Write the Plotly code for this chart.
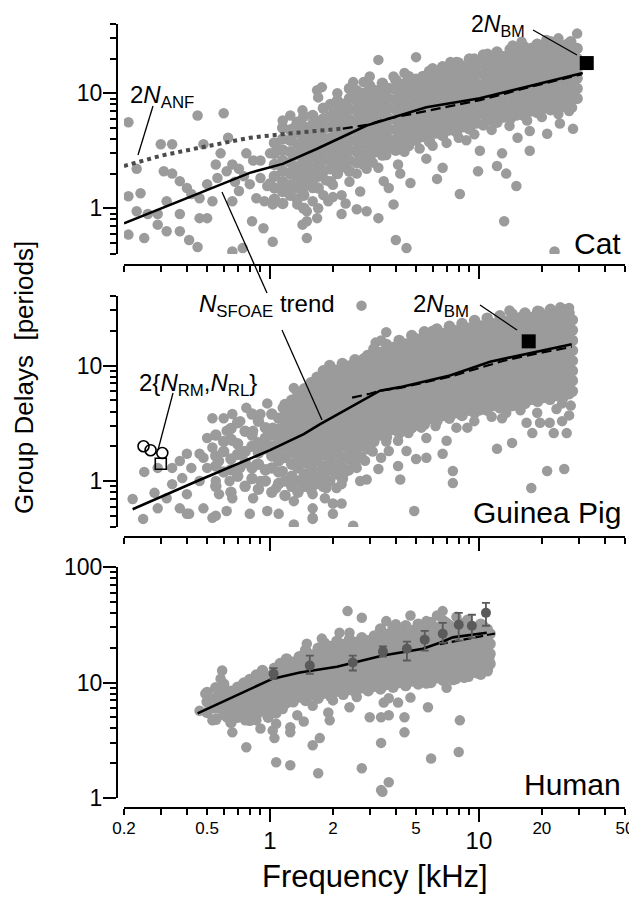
import math
import plotly.graph_objects as go

W, H = 637, 897          # browser window
OFF = 8                  # page body margin
FW, FH = W - OFF, H - OFF
FONT = 'Liberation Sans, Arial, Helvetica, sans-serif'
GRAY = '#9b9b9b'
DARK = '#5a5a5a'

# ---------------- tick values ----------------
freq_major = [1, 10]
freq_minor = [0.2, 0.3, 0.4, 0.5, 0.6, 0.7, 0.8, 0.9, 2, 3, 4, 5, 6, 7, 8, 9, 20, 30, 40, 50]
freq_label_vals = [0.2, 0.5, 2, 5, 20, 50]
freq_label_text = ['0.2', '0.5', '2', '5', '20', '50']
delay_major_cg = [1, 10]
delay_minor_cg = [0.4, 0.5, 0.6, 0.7, 0.8, 0.9, 2, 3, 4, 5, 6, 7, 8, 9, 20, 30, 40]
delay_major_h = [1, 10, 100]
delay_minor_h = [2, 3, 4, 5, 6, 7, 8, 9, 20, 30, 40, 50, 60, 70, 80, 90]

# ---------------- CAT ----------------
cat_pts = [
    (0.21, 5.6), (0.23, 2.2), (0.30, 3.6), (0.34, 3.6), (0.45, 6.4), (0.60, 6.7), (0.48, 3.6), (0.58, 3.0), (0.63, 4.1),
    (0.21, 1.27), (0.24, 1.35), (0.23, 0.94), (0.26, 0.89), (0.29, 0.89), (0.32, 1.15), (0.37, 0.89),
    (0.21, 0.59), (0.25, 0.55), (0.29, 0.72), (0.32, 0.63), (0.37, 0.63), (0.41, 0.53), (0.45, 0.46), (0.46, 0.82),
    (0.50, 0.82), (0.53, 1.15), (0.66, 1.15), (0.71, 1.41), (0.80, 1.62), (0.90, 1.83), (0.97, 1.56), (0.86, 1.22),
    (0.94, 1.15), (1.03, 1.08), (1.00, 1.65), (0.82, 0.77), (0.93, 0.67), (1.03, 0.51), (0.66, 0.42), (0.74, 0.45),
    (1.50, 0.55), (0.31, 2.1), (0.34, 2.0), (0.37, 1.72), (0.40, 1.5), (0.42, 1.33), (0.46, 1.22), (0.50, 1.62),
    (0.56, 1.83), (0.62, 2.1), (0.66, 2.4), (0.71, 2.2), (0.77, 3.0), (0.83, 2.6), (0.90, 2.6), (1.00, 3.0),
    (1.08, 3.4), (1.15, 5.8), (1.25, 6.4), (1.30, 5.0), (1.43, 7.1), (1.60, 5.5), (1.68, 10.6), (1.25, 3.9),
    (1.40, 3.4), (1.55, 3.9), (1.30, 2.2), (1.40, 2.0), (1.60, 2.2), (1.30, 1.5), (1.43, 1.41), (1.60, 1.72),
    (1.35, 1.08), (1.50, 0.94), (1.43, 0.72), (1.68, 0.82), (1.60, 1.15), (0.55, 2.4), (0.68, 1.7), (0.75, 1.9),
    (3.3, 19.5), (5.0, 20.6), (7.3, 18.7), (2.5, 12.5), (1.77, 11.3), (1.70, 9.2), (2.0, 7.5), (29.5, 33.0),
    (15.1, 23.8), (17.9, 24.9), (22.5, 22.4), (10.9, 18.3), (12.9, 16.8), (28.2, 12.5), (28.2, 9.2), (27.9, 7.5),
    (24.4, 5.45), (21.2, 4.45), (28.2, 4.9), (17.5, 3.16), (15.3, 4.1), (12.9, 3.0), (13.5, 2.0), (15.1, 1.56),
    (8.1, 1.33), (9.9, 2.1), (10.1, 3.16), (12.2, 2.33), (8.7, 3.9), (6.7, 2.25), (6.3, 1.8), (5.6, 2.7),
    (4.7, 1.66), (4.1, 2.4), (4.2, 2.0), (3.7, 1.5), (3.5, 1.72), (3.3, 2.25), (3.9, 1.08), (4.0, 0.53),
    (4.5, 0.45), (13.2, 0.77), (23.0, 0.42), (2.2, 0.89), (2.6, 0.98), (2.9, 0.94), (3.3, 0.82), (1.7, 1.0),
    (1.9, 1.15), (1.5, 0.77), (1.6, 1.5), (17.9, 9.6), (15.1, 6.4), (19.6, 6.7), (21.2, 9.2), (17.5, 4.7),
    (1.8, 1.3), (2.0, 1.6), (2.2, 1.3), (2.4, 1.7), (2.7, 1.4), (2.3, 1.1), (2.0, 1.25), (1.85, 1.75),
    (2.6, 2.0), (2.9, 2.2), (3.1, 2.5), (3.6, 2.9), (4.4, 3.1), (5.2, 3.3), (6.0, 3.5), (7.0, 3.7),
    (8.0, 4.1), (9.5, 4.4), (11.5, 4.8), (14.0, 5.2), (17.0, 5.8), (20.0, 6.2), (24.0, 6.6), (27.0, 7.0),
    (4.4, 15.0), (6.0, 16.5), (8.0, 18.5), (9.5, 20.0), (11.0, 22.0), (13.0, 21.0), (14.5, 26.0), (16.0, 28.0),
    (19.0, 27.0), (21.0, 29.0), (24.0, 30.0), (26.5, 27.0), (28.5, 25.0), (25.0, 19.0), (27.0, 21.0),
    (2.1, 10.0), (2.8, 12.5), (3.0, 14.0), (3.9, 14.0),
]
cat_band_f = [1.05, 1.15, 1.25, 1.35, 1.45, 1.5, 1.6, 1.7, 1.8, 1.95, 2.1, 2.25, 2.4, 2.6, 2.8, 3.0, 3.2, 3.45,
              3.7, 4.0, 4.3, 4.6, 5.0, 5.4, 5.8, 6.2, 6.7, 7.2, 7.8, 8.4, 9.0, 9.7, 10.5, 11.3, 12.2, 13.1,
              14.1, 15.2, 16.4, 17.7, 19.0, 20.5, 22.0, 23.7, 25.5, 27.5, 29.5]
cat_band_n = [
    [1.2, 1.5, 1.9, 2.4, 3.0, 3.7],
    [1.1, 1.4, 1.7, 2.1, 2.6, 3.2, 4.0, 5.0],
    [1.3, 1.6, 2.0, 2.5, 3.1, 3.9, 4.8],
    [1.2, 1.5, 1.85, 2.3, 2.9, 3.6, 4.5, 5.6],
    [1.0, 1.3, 1.7, 2.1, 2.6, 3.3, 4.1, 5.1, 6.3],
    [1.6, 2.0, 2.5, 3.1, 3.8, 4.7],
    [1.8, 2.2, 2.8, 3.4, 4.2, 5.2, 6.4],
    [1.5, 1.9, 2.4, 3.0, 3.7, 4.5, 5.6],
    [2.1, 2.6, 3.2, 4.0, 4.9, 6.0, 7.4],
    [1.7, 2.2, 2.7, 3.3, 4.1, 5.1, 6.3, 8.0],
    [2.0, 2.5, 3.0, 3.7, 4.6, 5.7, 7.0, 8.6],
    [2.3, 2.8, 3.5, 4.3, 5.3, 6.5, 8.0],
    [2.1, 2.6, 3.2, 3.9, 4.8, 5.9, 7.3, 9.0, 11.0],
    [2.5, 3.1, 3.8, 4.6, 5.7, 7.0, 8.6, 10.5],
    [2.4, 2.9, 3.6, 4.4, 5.4, 6.6, 8.1, 10.0],
    [2.8, 3.4, 4.2, 5.1, 6.3, 7.7, 9.5, 11.6],
    [3.1, 3.8, 4.6, 5.7, 7.0, 8.6, 10.5],
    [2.9, 3.6, 4.4, 5.4, 6.6, 8.1, 10.0, 12.2],
    [3.3, 4.0, 4.9, 6.0, 7.4, 9.0, 11.0],
    [3.2, 3.9, 4.8, 5.9, 7.2, 8.8, 10.8, 13.0],
    [3.6, 4.4, 5.4, 6.6, 8.1, 9.9, 12.0],
    [3.5, 4.3, 5.2, 6.4, 7.8, 9.6, 11.7, 14.0],
    [3.9, 4.8, 5.9, 7.2, 8.8, 10.8, 13.2],
    [4.2, 5.1, 6.3, 7.7, 9.4, 11.5, 14.0],
    [3.8, 4.7, 5.7, 7.0, 8.6, 10.5, 12.8, 15.5],
    [4.5, 5.5, 6.7, 8.2, 10.0, 12.3, 15.0],
    [4.3, 5.2, 6.4, 7.8, 9.6, 11.7, 14.3, 17.0],
    [4.8, 5.9, 7.2, 8.8, 10.8, 13.2, 16.0],
    [4.6, 5.6, 6.9, 8.4, 10.3, 12.6, 15.4, 18.5],
    [5.1, 6.2, 7.6, 9.3, 11.4, 13.9, 17.0],
    [4.9, 6.0, 7.3, 8.9, 10.9, 13.3, 16.3, 19.8],
    [5.5, 6.7, 8.2, 10.0, 12.2, 15.0, 18.3],
    [5.3, 6.5, 7.9, 9.7, 11.8, 14.5, 17.7, 21.5],
    [5.9, 7.2, 8.8, 10.8, 13.2, 16.1, 19.7],
    [5.6, 6.9, 8.4, 10.3, 12.6, 15.4, 18.8, 22.8],
    [6.2, 7.6, 9.3, 11.4, 13.9, 17.0, 20.8],
    [6.0, 7.3, 9.0, 11.0, 13.4, 16.4, 20.0, 24.0],
    [6.6, 8.1, 9.9, 12.1, 14.8, 18.1, 22.0],
    [6.4, 7.8, 9.5, 11.6, 14.2, 17.4, 21.3, 25.5],
    [7.0, 8.6, 10.5, 12.8, 15.7, 19.2, 23.5],
    [6.8, 8.3, 10.1, 12.4, 15.1, 18.5, 22.6, 26.5],
    [7.5, 9.2, 11.2, 13.7, 16.8, 20.5, 25.0],
    [7.2, 8.8, 10.8, 13.2, 16.1, 19.7, 24.0, 28.0],
    [8.0, 9.8, 12.0, 14.6, 17.9, 21.9, 26.7],
    [7.7, 9.4, 11.5, 14.1, 17.2, 21.0, 25.7],
    [8.5, 10.4, 12.7, 15.5, 19.0, 23.2, 28.0],
    [9.0, 11.0, 13.5, 16.5, 20.0, 24.5],
]
cat_trend_f = [0.2, 0.46, 0.8, 1.15, 1.68, 2.9, 5.6, 10.1, 18.1, 31.4]
cat_trend_n = [0.74, 1.36, 2.03, 2.43, 3.29, 5.24, 7.54, 9.04, 11.8, 15.0]
cat_dash_f = [2.23, 2.9, 3.5, 5.64, 10.1, 18.1, 31.0]
cat_dash_n = [4.93, 5.3, 5.9, 7.0, 8.7, 11.5, 14.6]
cat_anf_f = [0.2, 0.3, 0.46, 0.8, 1.2, 1.68, 2.23]
cat_anf_n = [2.33, 2.86, 3.36, 4.1, 4.45, 4.74, 4.93]
cat_bm_f = [32.8]
cat_bm_n = [18.3]

# ---------------- GUINEA PIG ----------------
gp_pts = [
    (0.22, 0.70), (0.247, 0.47), (0.28, 0.79), (0.32, 0.71), (0.37, 0.58), (0.41, 0.52), (0.34, 0.94), (0.38, 1.06),
    (0.42, 1.3), (0.46, 1.0), (0.37, 1.49), (0.34, 1.3), (0.40, 1.72), (0.48, 1.59), (0.53, 1.95), (0.50, 1.3),
    (0.57, 1.49), (0.55, 1.0), (0.57, 0.77), (0.62, 0.55), (0.66, 0.71), (0.64, 1.0), (0.72, 1.3), (0.74, 1.72),
    (0.66, 2.23), (0.62, 2.72), (0.60, 3.5), (0.72, 3.3), (0.77, 4.3), (0.83, 2.72), (0.90, 3.8), (0.97, 4.7),
    (1.03, 2.9), (0.97, 1.95), (0.86, 1.4), (0.90, 1.0), (0.83, 0.71), (0.80, 0.52), (0.97, 0.55), (1.10, 0.52),
    (1.07, 0.87), (1.15, 1.22), (1.10, 1.72), (1.25, 1.95), (1.30, 6.4), (1.40, 5.3), (1.15, 4.3), (1.40, 3.3),
    (1.60, 3.8), (1.50, 2.36), (1.60, 1.49), (1.40, 1.0), (1.30, 0.67), (1.60, 0.77), (1.60, 0.48), (1.30, 0.42),
    (0.53, 0.48), (0.48, 0.58), (0.40, 0.77), (0.29, 0.58), (0.53, 3.5), (0.66, 3.8), (0.50, 2.36), (0.46, 1.72),
    (0.29, 1.3), (0.25, 1.2), (0.40, 0.52), (0.55, 0.50),
    (2.74, 33.0), (3.6, 19.4), (3.2, 15.8), (3.4, 16.5), (2.4, 10.0), (2.8, 11.5), (1.83, 9.0), (1.6, 6.4),
    (1.44, 3.8), (6.0, 20.0), (7.8, 17.5), (5.4, 17.5), (4.7, 14.3), (10.9, 21.4), (14.0, 30.0), (15.7, 26.2),
    (23.3, 28.3), (26.0, 29.0), (12.6, 23.2), (18.0, 23.2), (20.9, 23.6), (22.0, 31.0), (24.5, 32.0), (27.0, 31.5),
    (26.0, 30.0), (19.5, 29.5),
    (1.55, 1.4), (1.73, 1.0), (1.83, 0.71), (1.6, 0.58), (1.6, 0.47), (2.0, 0.64), (2.2, 0.64), (2.0, 0.52),
    (2.5, 0.41), (1.86, 0.87), (2.08, 0.87), (2.2, 0.94), (2.7, 1.0), (2.9, 1.03), (3.3, 1.27), (4.2, 1.03),
    (4.1, 1.35), (4.9, 0.55), (3.4, 2.56), (4.1, 2.23), (3.7, 1.82), (4.5, 1.82), (5.0, 1.55), (5.6, 1.59),
    (3.4, 1.59), (7.5, 1.22), (7.5, 0.96), (6.7, 1.72), (7.0, 2.23), (7.8, 2.9), (5.6, 2.36), (12.2, 1.9),
    (14.4, 2.14), (12.9, 3.5), (18.0, 2.6), (16.9, 3.2), (19.6, 3.2), (21.8, 3.2), (25.0, 3.3), (19.0, 3.9),
    (21.2, 1.22), (25.6, 1.27), (17.8, 0.87), (21.8, 5.3), (25.0, 4.7), (10.9, 4.7), (10.1, 4.1), (8.8, 2.9),
    (2.3, 1.2), (2.6, 1.3), (2.45, 1.6), (2.85, 1.5), (3.1, 1.8), (3.0, 2.1), (2.2, 1.1), (3.6, 2.2),
    (4.6, 2.6), (5.3, 2.9), (6.2, 3.0), (9.5, 3.3), (11.5, 3.6), (13.5, 3.9), (15.8, 4.1), (23.5, 4.2),
    (27.5, 4.5), (27.0, 3.7), (26.3, 2.6), (22.8, 2.6),
]
gp_band_f = [0.55, 0.6, 0.65, 0.7, 0.76, 0.82, 0.88, 0.95, 1.02, 1.1, 1.18, 1.27, 1.36, 1.46, 1.57, 1.68,
             1.8, 1.93, 2.07, 2.22, 2.38, 2.55, 2.73, 2.93, 3.14, 3.37, 3.61, 3.87, 4.15, 4.45, 4.77, 5.11,
             5.48, 5.87, 6.29, 6.74, 7.22, 7.74, 8.3, 8.9, 9.53, 10.2, 10.95, 11.7, 12.6, 13.5, 14.4, 15.5,
             16.6, 17.8, 19.1, 20.4, 21.9, 23.5, 25.2, 27.0, 28.0]
gp_band_n = [
    [0.9, 1.35, 1.65, 2.5],
    [1.2, 1.8, 2.2],
    [0.8, 1.25, 1.55, 2.3, 2.85],
    [1.1, 1.7, 2.1, 3.2],
    [0.9, 1.45, 1.8, 2.7],
    [1.05, 1.3, 2.0, 2.5, 3.8],
    [0.85, 1.4, 1.75, 2.15, 3.3],
    [1.0, 1.25, 1.9, 2.35, 2.9],
    [0.8, 1.3, 1.65, 2.0, 2.5, 3.8],
    [0.95, 1.2, 1.5, 1.85, 2.3, 2.8, 3.5],
    [0.75, 1.0, 1.6, 2.0, 2.45, 3.0, 3.7, 4.6],
    [0.9, 1.1, 1.4, 1.75, 2.15, 2.65, 3.3, 4.0, 5.0],
    [0.8, 1.0, 1.3, 1.6, 2.0, 2.45, 3.0, 3.7, 4.6, 5.7],
    [0.9, 1.15, 1.45, 1.8, 2.2, 2.7, 3.35, 4.1, 5.1, 6.3],
    [0.85, 1.05, 1.3, 1.65, 2.0, 2.5, 3.1, 3.8, 4.7, 5.8, 7.1],
    [0.95, 1.2, 1.5, 1.85, 2.3, 2.8, 3.45, 4.25, 5.2, 6.4, 7.9],
    [0.9, 1.1, 1.35, 1.7, 2.1, 2.6, 3.2, 3.9, 4.8, 5.9, 7.3, 9.0],
    [1.0, 1.25, 1.55, 1.9, 2.35, 2.9, 3.55, 4.4, 5.4, 6.6, 8.1, 10.0],
    [1.15, 1.4, 1.75, 2.15, 2.65, 3.25, 4.0, 4.9, 6.0, 7.4, 9.1],
    [1.05, 1.3, 1.6, 2.0, 2.45, 3.0, 3.7, 4.5, 5.6, 6.9, 8.5, 10.4],
    [1.25, 1.55, 1.9, 2.3, 2.85, 3.5, 4.3, 5.3, 6.5, 8.0, 9.8],
    [1.4, 1.75, 2.15, 2.65, 3.25, 4.0, 4.9, 6.0, 7.4, 9.1, 11.2],
    [1.6, 2.0, 2.45, 3.0, 3.7, 4.55, 5.6, 6.9, 8.5, 10.4],
    [1.9, 2.35, 2.9, 3.55, 4.35, 5.35, 6.6, 8.1, 9.9, 12.2],
    [2.2, 2.7, 3.3, 4.05, 5.0, 6.1, 7.5, 9.2, 11.3, 13.9],
    [2.5, 3.1, 3.8, 4.7, 5.75, 7.05, 8.65, 10.6, 13.0],
    [2.4, 2.95, 3.6, 4.45, 5.45, 6.7, 8.2, 10.1, 12.4, 15.2],
    [2.8, 3.4, 4.2, 5.15, 6.3, 7.75, 9.5, 11.7, 14.3],
    [2.6, 3.2, 3.95, 4.85, 5.95, 7.3, 8.95, 11.0, 13.5, 16.5],
    [3.0, 3.7, 4.5, 5.55, 6.8, 8.35, 10.2, 12.6, 15.4],
    [2.9, 3.55, 4.35, 5.35, 6.55, 8.05, 9.9, 12.1, 14.9, 18.2],
    [3.3, 4.05, 4.95, 6.1, 7.45, 9.15, 11.2, 13.8, 16.9],
    [3.1, 3.8, 4.7, 5.75, 7.05, 8.65, 10.6, 13.0, 16.0, 19.6],
    [3.5, 4.3, 5.25, 6.45, 7.9, 9.7, 11.9, 14.6, 17.9],
    [3.3, 4.05, 4.95, 6.1, 7.45, 9.15, 11.2, 13.8, 16.9, 20.7],
    [3.7, 4.55, 5.55, 6.8, 8.35, 10.2, 12.6, 15.4, 18.9],
    [3.5, 4.3, 5.25, 6.45, 7.9, 9.7, 11.9, 14.6, 17.9, 21.9],
    [3.9, 4.8, 5.85, 7.2, 8.8, 10.8, 13.3, 16.3, 20.0],
    [3.7, 4.55, 5.55, 6.8, 8.35, 10.2, 12.6, 15.4, 18.9, 23.1],
    [4.1, 5.0, 6.15, 7.55, 9.25, 11.3, 13.9, 17.1, 21.0],
    [3.9, 4.8, 5.85, 7.2, 8.8, 10.8, 13.3, 16.3, 20.0, 24.5],
    [4.3, 5.3, 6.5, 7.95, 9.75, 12.0, 14.7, 18.0, 22.0],
    [4.1, 5.0, 6.15, 7.55, 9.25, 11.3, 13.9, 17.1, 21.0, 25.7],
    [4.5, 5.5, 6.75, 8.3, 10.2, 12.5, 15.3, 18.8, 23.0],
    [4.3, 5.3, 6.5, 7.95, 9.75, 12.0, 14.7, 18.0, 22.0, 27.0],
    [4.7, 5.75, 7.05, 8.65, 10.6, 13.0, 16.0, 19.6, 24.0],
    [4.5, 5.5, 6.75, 8.3, 10.2, 12.5, 15.3, 18.8, 23.0, 28.0],
    [4.9, 6.0, 7.35, 9.0, 11.1, 13.6, 16.6, 20.4, 25.0],
    [4.7, 5.75, 7.05, 8.65, 10.6, 13.0, 16.0, 19.6, 24.0, 28.5],
    [5.1, 6.25, 7.65, 9.4, 11.5, 14.1, 17.3, 21.2, 26.0],
    [4.9, 6.0, 7.35, 9.0, 11.1, 13.6, 16.6, 20.4, 25.0, 29.5],
    [5.3, 6.5, 7.95, 9.75, 12.0, 14.7, 18.0, 22.0, 27.0],
    [5.1, 6.25, 7.65, 9.4, 11.5, 14.1, 17.3, 21.2, 26.0, 30.0],
    [5.5, 6.75, 8.3, 10.2, 12.5, 15.3, 18.8, 23.0, 28.2],
    [5.3, 6.5, 7.95, 9.75, 12.0, 14.7, 18.0, 22.0, 27.0, 30.5],
    [5.7, 7.0, 8.6, 10.5, 12.9, 15.8, 19.4, 23.8, 28.5],
    [6.0, 7.4, 9.0, 11.0, 13.5, 16.5, 20.2, 24.8],
]
gp_trend_f = [0.22, 0.46, 1.0, 1.45, 1.73, 2.41, 3.36, 4.19, 7.26, 11.3, 18.1, 27.8]
gp_trend_n = [0.57, 1.02, 1.85, 2.55, 3.1, 4.31, 6.06, 6.5, 8.2, 10.8, 12.9, 15.3]
gp_dash_f = [2.47, 3.0, 3.36, 4.19, 7.26, 12.9, 18.1, 27.8]
gp_dash_n = [5.27, 5.7, 6.06, 6.4, 8.0, 10.9, 12.5, 14.5]
gp_bm_f = [17.3]
gp_bm_n = [16.2]
gp_rm_f = [0.248, 0.268, 0.305]
gp_rm_n = [2.0, 1.85, 1.75]
gp_rl_f = [0.30]
gp_rl_n = [1.41]

# ---------------- HUMAN ----------------
hu_pts = [
    (0.46, 5.7), (0.49, 8.0), (0.59, 12.7), (0.58, 10.8), (0.53, 4.7), (0.64, 8.2), (0.66, 3.7), (0.77, 2.75),
    (0.76, 4.7), (0.66, 6.1), (0.62, 5.0), (0.86, 4.7), (1.03, 3.85), (1.07, 4.4), (1.07, 5.4), (1.25, 4.1),
    (1.25, 3.7), (1.05, 3.3), (1.07, 2.04), (1.25, 1.92), (1.6, 2.86), (1.7, 1.64), (1.5, 21.7), (2.35, 41.5),
    (2.75, 36.3), (1.77, 24.0), (2.15, 27.0), (2.4, 27.0), (3.6, 34.0), (4.0, 32.0), (4.7, 38.0), (6.7, 41.5),
    (6.3, 38.0), (5.6, 34.0), (5.2, 29.6), (1.9, 5.5), (1.93, 4.7), (1.73, 3.3), (2.4, 6.1), (2.75, 1.81),
    (3.0, 5.0), (3.4, 5.0), (3.7, 5.2), (3.4, 3.0), (3.4, 1.17), (3.45, 1.13), (3.7, 1.37), (3.5, 6.7),
    (3.7, 7.3), (4.1, 6.7), (4.4, 5.0), (4.4, 3.7), (4.7, 7.4), (5.7, 6.1), (5.9, 2.2), (5.6, 9.8),
    (6.0, 10.8), (8.1, 4.7), (8.0, 2.5), (10.9, 18.9), (10.9, 23.0), (0.7, 7.0), (0.82, 6.0), (0.9, 4.0),
    (1.15, 5.9), (1.35, 5.2), (1.45, 4.6), (1.6, 6.3), (2.0, 7.0), (2.6, 7.5), (7.0, 9.0), (7.5, 10.5),
    (8.5, 11.0), (9.8, 12.0), (11.0, 12.5), (11.2, 16.0), (10.5, 31.0), (8.8, 35.0), (7.8, 37.0), (7.0, 33.0),
    (1.0, 6.0), (1.2, 6.6), (0.95, 8.0),
]
hu_band_f = [0.5, 0.55, 0.6, 0.65, 0.7, 0.75, 0.8, 0.86, 0.92, 0.98, 1.05, 1.12, 1.2, 1.29, 1.38, 1.48, 1.58,
             1.7, 1.82, 1.95, 2.09, 2.24, 2.4, 2.57, 2.75, 2.95, 3.16, 3.38, 3.62, 3.88, 4.16, 4.46, 4.78,
             5.12, 5.49, 5.88, 6.3, 6.75, 7.23, 7.75, 8.3, 8.9, 9.53, 10.2, 10.95, 11.3]
hu_band_n = [
    [5.5, 6.8, 8.2],
    [4.8, 6.0, 7.3, 9.0],
    [5.3, 6.5, 7.9, 9.7],
    [4.5, 5.6, 6.9, 8.4],
    [5.0, 6.1, 7.5, 9.1],
    [5.4, 6.6, 8.1, 9.9],
    [4.7, 5.8, 7.1, 8.7, 10.6],
    [5.2, 6.4, 7.8, 9.5, 11.6],
    [5.7, 7.0, 8.5, 10.4, 12.7],
    [5.0, 6.2, 7.6, 9.3, 11.3],
    [6.0, 7.3, 8.9, 10.9, 13.3],
    [6.6, 8.0, 9.8, 12.0, 14.6],
    [7.2, 8.8, 10.7, 13.1, 16.0],
    [6.8, 8.3, 10.1, 12.3, 15.0],
    [7.5, 9.2, 11.2, 13.7, 16.7],
    [7.0, 8.6, 10.5, 12.8, 15.6, 19.0],
    [7.8, 9.5, 11.6, 14.2, 17.3],
    [7.3, 8.9, 10.9, 13.3, 16.2, 19.8],
    [8.1, 9.9, 12.1, 14.8, 18.0, 22.0],
    [7.6, 9.3, 11.3, 13.8, 16.8, 20.5],
    [8.4, 10.3, 12.5, 15.3, 18.7, 22.8],
    [7.9, 9.6, 11.7, 14.3, 17.5, 21.3],
    [8.7, 10.6, 13.0, 15.8, 19.3, 23.6],
    [8.2, 10.0, 12.2, 14.9, 18.2, 22.2],
    [9.0, 11.0, 13.4, 16.4, 20.0, 24.4],
    [8.5, 10.4, 12.7, 15.5, 18.9, 23.0],
    [9.3, 11.4, 13.9, 17.0, 20.7, 25.3],
    [8.8, 10.7, 13.1, 16.0, 19.5, 23.8, 29.0],
    [9.6, 11.7, 14.3, 17.5, 21.3, 26.0],
    [9.1, 11.1, 13.6, 16.6, 20.2, 24.7, 30.0],
    [10.0, 12.2, 14.9, 18.2, 22.2, 27.0],
    [9.4, 11.5, 14.0, 17.1, 20.9, 25.5, 31.0],
    [10.3, 12.6, 15.4, 18.8, 22.9, 28.0],
    [9.7, 11.8, 14.4, 17.6, 21.5, 26.2, 32.0],
    [10.7, 13.0, 15.9, 19.4, 23.7, 28.9],
    [10.0, 12.2, 14.9, 18.2, 22.2, 27.1, 33.0],
    [11.0, 13.4, 16.4, 20.0, 24.4, 29.8],
    [10.4, 12.7, 15.5, 18.9, 23.1, 28.2, 34.0],
    [11.5, 14.0, 17.1, 20.9, 25.5, 31.1],
    [10.8, 13.2, 16.1, 19.6, 23.9, 29.2],
    [12.0, 14.6, 17.8, 21.7, 26.5, 32.3],
    [11.3, 13.8, 16.8, 20.5, 25.0, 30.5],
    [12.5, 15.3, 18.7, 22.8, 27.8],
    [11.8, 14.4, 17.6, 21.5, 26.2, 32.0],
    [13.0, 15.9, 19.4, 23.7, 28.9],
    [14.5, 17.7, 21.6, 26.4],
]
hu_trend_f = [0.45, 1.03, 1.39, 2.09, 3.47, 5.39, 6.5, 7.0, 7.5, 10.9]
hu_trend_n = [5.4, 10.8, 12.2, 13.7, 17.1, 19.6, 22.1, 23.4, 24.6, 27.0]
hu_dash_f = [6.5, 7.8, 9.3, 11.6, 12.2]
hu_dash_n = [21.5, 23.0, 24.5, 26.3, 26.6]
hu_avg_f = [1.04, 1.55, 2.49, 3.47, 4.52, 5.5, 6.71, 8.0, 9.25, 10.8]
hu_avg_n = [11.9, 14.0, 14.9, 18.5, 19.6, 23.5, 26.4, 31.6, 31.0, 40.1]
hu_avg_hi = [13.3, 17.1, 17.1, 20.5, 22.6, 28.0, 32.8, 40.0, 38.6, 49.0]
hu_avg_lo = [10.7, 11.9, 12.7, 16.8, 15.5, 18.9, 22.0, 23.0, 24.3, 31.0]


# ---------------- helpers ----------------
def expand(cols_f, cols_n):
    xs, ys = [], []
    for f, col in zip(cols_f, cols_n):
        for n in col:
            xs.append(f)
            ys.append(n)
    return xs, ys


def px(x):
    """window pixel -> paper fraction (figure sits at the page's body margin)"""
    return (x - OFF) / FW


def py(y):
    return 1 - (y - OFF) / FH


L = math.log10
XD = [px(124), px(625)]
XR = [L(0.2), L(50)]
YPOS = px(117)

fig = go.Figure()


def scatter_panel(pts, band_f, band_n, xa, ya):
    bx, by = expand(band_f, band_n)
    fig.add_trace(go.Scatter(x=bx, y=by, mode='markers', xaxis=xa, yaxis=ya,
                             marker=dict(color=GRAY, size=11.5, line=dict(width=0)),
                             hoverinfo='skip', showlegend=False))
    fig.add_trace(go.Scatter(x=[p[0] for p in pts], y=[p[1] for p in pts], mode='markers',
                             xaxis=xa, yaxis=ya,
                             marker=dict(color=GRAY, size=10.5, line=dict(width=0)),
                             hoverinfo='skip', showlegend=False))


scatter_panel(cat_pts, cat_band_f, cat_band_n, 'x', 'y')
scatter_panel(gp_pts, gp_band_f, gp_band_n, 'x2', 'y2')
scatter_panel(hu_pts, hu_band_f, hu_band_n, 'x3', 'y3')


def line(xs, ys, xa, ya, color='black', width=2.6, dash='solid'):
    fig.add_trace(go.Scatter(x=xs, y=ys, mode='lines', xaxis=xa, yaxis=ya,
                             line=dict(color=color, width=width, dash=dash),
                             hoverinfo='skip', showlegend=False))


# Cat lines
line(cat_anf_f, cat_anf_n, 'x', 'y', color='#4a4a4a', width=4, dash='dot')
line(cat_dash_f, cat_dash_n, 'x', 'y', width=2.2, dash='10px,5px')
line(cat_trend_f, cat_trend_n, 'x', 'y')
fig.add_trace(go.Scatter(x=cat_bm_f, y=cat_bm_n, mode='markers', xaxis='x', yaxis='y',
                         marker=dict(symbol='square', color='black', size=14), showlegend=False))
# GP lines
line(gp_dash_f, gp_dash_n, 'x2', 'y2', width=2.2, dash='10px,5px')
line(gp_trend_f, gp_trend_n, 'x2', 'y2')
fig.add_trace(go.Scatter(x=gp_bm_f, y=gp_bm_n, mode='markers', xaxis='x2', yaxis='y2',
                         marker=dict(symbol='square', color='black', size=14), showlegend=False))
fig.add_trace(go.Scatter(x=gp_rm_f, y=gp_rm_n, mode='markers', xaxis='x2', yaxis='y2',
                         marker=dict(symbol='circle-open', color='black', size=11, line=dict(width=1.6)),
                         showlegend=False))
fig.add_trace(go.Scatter(x=gp_rl_f, y=gp_rl_n, mode='markers', xaxis='x2', yaxis='y2',
                         marker=dict(symbol='square-open', color='black', size=11, line=dict(width=1.6)),
                         showlegend=False))
# Human
line(hu_dash_f, hu_dash_n, 'x3', 'y3', width=2.2, dash='8px,4px')
line(hu_trend_f, hu_trend_n, 'x3', 'y3')
fig.add_trace(go.Scatter(
    x=hu_avg_f, y=hu_avg_n, mode='markers', xaxis='x3', yaxis='y3',
    marker=dict(color=DARK, size=10),
    error_y=dict(type='data', symmetric=False,
                 array=[h - n for h, n in zip(hu_avg_hi, hu_avg_n)],
                 arrayminus=[n - lo for lo, n in zip(hu_avg_lo, hu_avg_n)],
                 color=DARK, thickness=1.8, width=4),
    showlegend=False))
# empty trace carrying the overlay axis with the minor frequency labels
fig.add_trace(go.Scatter(x=[], y=[], xaxis='x4', yaxis='y3', showlegend=False, hoverinfo='skip'))


def xaxis(pos, labels):
    return dict(type='log', range=XR, domain=XD, anchor='free', position=pos,
                showline=True, linecolor='black', linewidth=2.2, mirror=False,
                ticks='outside', tickmode='array', tickvals=freq_major, ticktext=['1', '10'],
                ticklen=13, tickwidth=2, tickcolor='black',
                showticklabels=labels, tickfont=dict(size=24, color='black', family=FONT),
                ticklabelstandoff=-2,
                showgrid=False, zeroline=False, automargin=False, fixedrange=True,
                minor=dict(tickmode='array', tickvals=freq_minor, ticks='outside', ticklen=6,
                           tickwidth=1.7, tickcolor='black', showgrid=False))


def yaxis(dom, rng, major, minor, text):
    return dict(type='log', range=rng, domain=dom, anchor='free', position=YPOS, side='left',
                showline=True, linecolor='black', linewidth=2.2,
                ticks='outside', tickmode='array', tickvals=major, ticktext=text,
                ticklen=13, tickwidth=2, tickcolor='black',
                tickfont=dict(size=23, color='black', family=FONT), ticklabelstandoff=-4,
                showgrid=False, zeroline=False, automargin=False, fixedrange=True,
                minor=dict(tickmode='array', tickvals=minor, ticks='outside', ticklen=6,
                           tickwidth=1.7, tickcolor='black', showgrid=False))


YR_CG = [L(0.4), L(40)]


def seg(x0, y0, x1, y1):
    return dict(type='line', xref='paper', yref='paper', x0=px(x0), y0=py(y0), x1=px(x1), y1=py(y1),
                line=dict(color='black', width=1.3), layer='above')


# annotation leader lines (window pixels: label end -> pointed mark)
leaders = [
    seg(153, 106, 138, 155),   # 2N_ANF
    seg(533, 30, 577, 55),     # cat 2N_BM
    seg(480, 305, 517, 330),   # gp 2N_BM
    seg(173, 393, 158, 450),   # 2{N_RM,N_RL}
    seg(267, 293, 222, 192),   # N_SFOAE -> cat
    seg(282, 330, 322, 420),   # N_SFOAE -> gp
]

fig.update_layout(
    width=FW, height=FH, margin=dict(l=0, r=0, t=0, b=0),
    paper_bgcolor='white', plot_bgcolor='white',
    font=dict(family=FONT, color='black'),
    showlegend=False, hovermode=False,
    xaxis=xaxis(py(265), False),
    xaxis2=xaxis(py(537), False),
    xaxis3=xaxis(py(808), True),
    xaxis4=dict(type='log', range=XR, domain=XD, overlaying='x3', anchor='free', position=py(808),
                showline=False, ticks='outside', tickmode='array', tickvals=freq_label_vals,
                ticktext=freq_label_text, ticklen=6, tickwidth=1.7, tickcolor='black',
                tickfont=dict(size=17, color='black', family=FONT), ticklabelstandoff=-1,
                showgrid=False, zeroline=False, automargin=False, fixedrange=True),
    yaxis=yaxis([py(254), py(24)], YR_CG, delay_major_cg, delay_minor_cg, ['1', '10']),
    yaxis2=yaxis([py(527), py(296)], YR_CG, delay_major_cg, delay_minor_cg, ['1', '10']),
    yaxis3=yaxis([py(798), py(567)], [0, 2], delay_major_h, delay_minor_h, ['1', '10', '100']),
    shapes=leaders,
)

ann = []


def text(x, y, s, size, xanchor='left', yanchor='middle', angle=0):
    ann.append(dict(xref='paper', yref='paper', x=px(x), y=py(y), text=s, showarrow=False,
                    xanchor=xanchor, yanchor=yanchor, textangle=angle,
                    font=dict(size=size, family=FONT, color='black')))


text(623, 243, 'Cat', 30, xanchor='right')
text(623, 513, 'Guinea Pig', 30, xanchor='right')
text(623, 784, 'Human', 30, xanchor='right')
text(375, 876, 'Frequency [kHz]', 31, xanchor='center')
text(24, 378, 'Group Delays  [periods]', 26, xanchor='center', angle=-90)
text(128, 96, '2<i>N</i><sub>ANF</sub>', 24)
text(469, 26, '2<i>N</i><sub>BM</sub>', 23)
text(411, 306, '2<i>N</i><sub>BM</sub>', 24)
text(137, 384, '2{<i>N</i><sub>RM</sub>,<i>N</i><sub>RL</sub>}', 24)
text(197, 306, '<i>N</i><sub>SFOAE</sub> trend', 24)

fig.update_layout(annotations=ann)
fig.write_html('out.html')
